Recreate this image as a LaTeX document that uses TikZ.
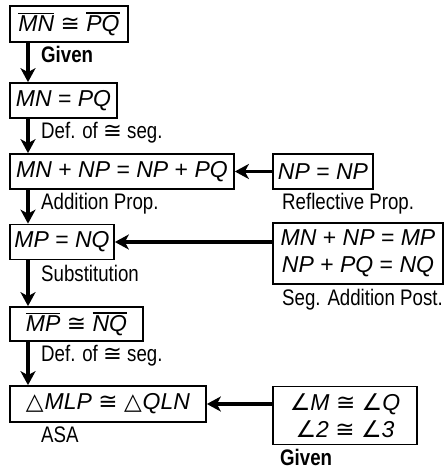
\documentclass[tikz,border=0pt]{standalone}
\usepackage{fontspec}
\setmainfont{Liberation Sans}
\newfontfamily\labfont[FakeStretch=0.83]{Liberation Sans}
\newfontfamily\symfont{DejaVu Sans}
\usetikzlibrary{arrows.meta}
\newcommand{\cg}{{\upshape\symfont ≅}}
\newcommand{\ag}{{\upshape\symfont ∠}}
\newcommand{\tr}{{\upshape\symfont △}}
\newcommand{\eqs}{{\upshape =}}
\newcommand{\pls}{{\upshape +}}
\newcommand{\ovl}[1]{\leavevmode\vbox{\hrule height 1.3pt\kern 1.6pt\hbox{#1}}}
\newcommand{\boxfont}{\fontsize{23}{27}\selectfont\itshape}
\newcommand{\labsize}{\fontsize{22.5}{25}\selectfont\labfont}
\begin{document}
\begin{tikzpicture}[x=1pt,y=-1pt,
  box/.style={draw, line width=1.7pt, inner sep=0pt, align=center, font=\boxfont},
  lab/.style={anchor=base west, inner sep=0pt, font=\labsize},
  blab/.style={lab, font=\labsize\bfseries},
  arr/.style={line width=3.2pt, -{Stealth[length=14pt,width=15pt,inset=4pt]}}]
\useasboundingbox (0,0) rectangle (446,469);
\coordinate (ax) at (28,0);
% boxes
\node[box, minimum width=118pt, minimum height=36pt] (b1) at (69,24) {\ovl{MN} \cg\ \ovl{PQ}};
\node[box, minimum width=107pt, minimum height=35pt] (b2) at (63.5,100.5) {MN \eqs\ PQ};
\node[box, minimum width=224pt, minimum height=35pt] (b3) at (122,171.5) {MN \pls\ NP \eqs\ NP \pls\ PQ};
\node[box, minimum width=100pt, minimum height=35pt] (np) at (323,171.5) {NP \eqs\ NP};
\node[box, minimum width=104pt, minimum height=35pt] (b4) at (62,242) {MP \eqs\ NQ};
\node[box, minimum width=170pt, minimum height=61pt] (b5) at (358,253.5) {MN \pls\ NP \eqs\ MP\\NP \pls\ PQ \eqs\ NQ};
\node[box, minimum width=133pt, minimum height=34pt] (b6) at (76.5,324) {\ovl{MP} \cg\ \ovl{NQ}};
\node[box, minimum width=196pt, minimum height=36pt] (b7) at (108,404) {\tr\kern1pt MLP \cg\ \tr\kern1pt QLN};
\node[box, minimum width=144pt, minimum height=58pt] (b8) at (345,415.5) {\ag M \cg\ \ag Q\\\ag 2 \cg\ \ag 3};
% labels
\node[blab] (l1) at (41,62) {Given};
\node[lab] (l2) at (41,138) {Def. of \cg\ seg.};
\node[lab] (l3) at (41,209) {Addition Prop.};
\node[lab] (l4) at (282,209) {Reflective Prop.};
\node[lab] (l5) at (41,281) {Substitution};
\node[lab] (l6) at (282,305) {Seg. Addition Post.};
\node[lab] (l7) at (41,361) {Def. of \cg\ seg.};
\node[lab] (l8) at (41,442) {ASA};
\node[blab] (l9) at (280,465) {Given};
% arrows
\draw[arr] (ax |- b1.south) -- (ax |- b2.north);
\draw[arr] (ax |- b2.south) -- (ax |- b3.north);
\draw[arr] (ax |- b3.south) -- (ax |- b4.north);
\draw[arr] (ax |- b4.south) -- (ax |- b6.north);
\draw[arr] (ax |- b6.south) -- (ax |- b7.north);
\draw[arr] (np.west) -- (b3.east);
\draw[arr] (b4.east -| b5.west) -- (b4.east);
\draw[arr] (b7.east -| b8.west) -- (b7.east);
\end{tikzpicture}
\end{document}
